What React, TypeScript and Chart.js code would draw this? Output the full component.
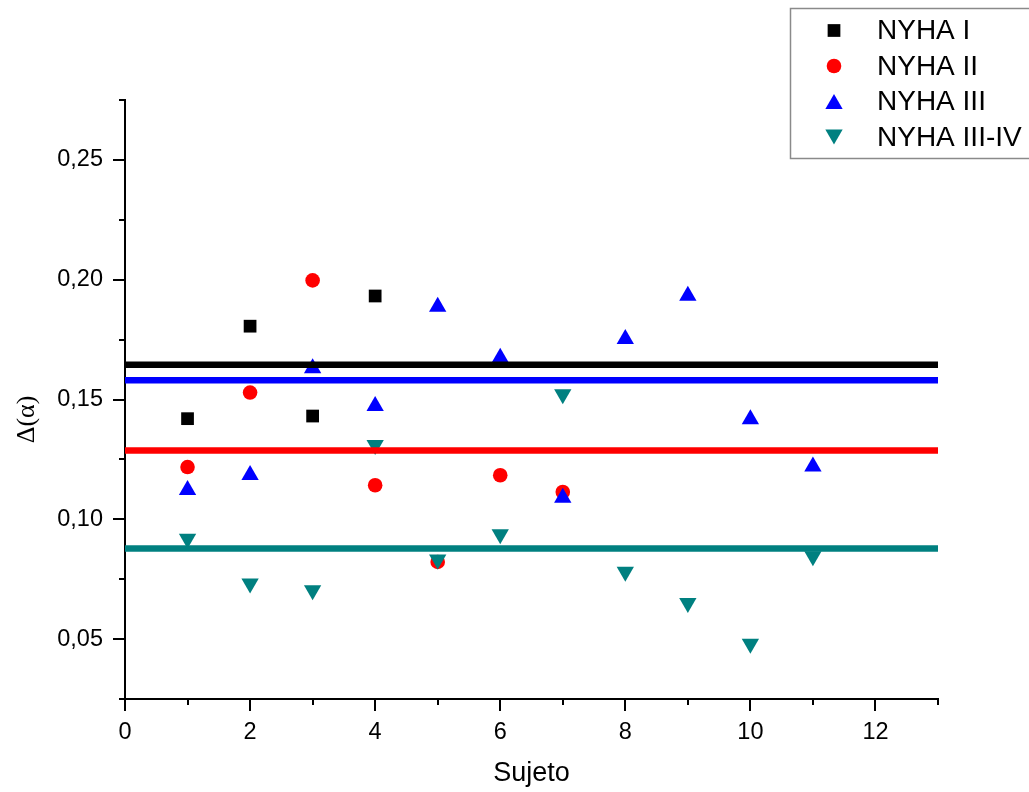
import React, { useEffect, useRef } from 'react';
import { Chart, registerables } from 'chart.js';
import { drawPoint } from 'chart.js/helpers';

Chart.register(...registerables);

// ---- data ----
const subjectsI = [1, 2, 3, 4];
const valuesI = [0.142, 0.1806, 0.1431, 0.1932];

const subjectsII = [1, 2, 3, 4, 5, 6, 7];
const valuesII = [0.1218, 0.1529, 0.1997, 0.1142, 0.0822, 0.1184, 0.1114];

const subjectsIII = [1, 2, 3, 4, 5, 6, 7, 8, 9, 10, 11];
const valuesIII = [0.1122, 0.1185, 0.163, 0.1473, 0.1887, 0.1674, 0.109, 0.1752, 0.1933, 0.1418, 0.122];

const subjectsIIIIV = [1, 2, 3, 4, 5, 6, 7, 8, 9, 10, 11];
const valuesIIIIV = [0.0919, 0.0732, 0.0704, 0.131, 0.0832, 0.0938, 0.1522, 0.0781, 0.0651, 0.0481, 0.0846];

const groupLabels = ['NYHA I', 'NYHA II', 'NYHA III', 'NYHA III-IV'];
const groupMeans = [0.1645, 0.1287, 0.158, 0.0878];

const xMin = 0;
const xMax = 13;
const yMin = 0.025;
const yMax = 0.275;
const xMajorTicks = [0, 2, 4, 6, 8, 10, 12];
const xMinorTicks = [1, 3, 5, 7, 9, 11, 13];
const yMajorTicks = [0.05, 0.1, 0.15, 0.2, 0.25];
const yMinorTicks = [0.025, 0.075, 0.125, 0.175, 0.225, 0.275];

const xTitle = 'Sujeto';
const yTitle = 'Δ(α)';

// ---- styles ----
const colors = ['#000000', '#ff0000', '#0000ff', '#008080'];
const styles: any[] = [
  { pointStyle: 'rect', radius: 9, rotation: 0, legendDy: 0 },
  { pointStyle: 'circle', radius: 7.3, rotation: 0, legendDy: 0 },
  { pointStyle: 'triangle', radius: 10, rotation: 0, legendDy: 2.5 },
  { pointStyle: 'triangle', radius: 10, rotation: 180, legendDy: -2.5 },
];
const sans = "'Liberation Sans', Arial, Helvetica, sans-serif";
const serif = "'Liberation Serif', 'Times New Roman', serif";

const toPts = (xs: number[], ys: number[]) => xs.map((x, i) => ({ x, y: ys[i] }));

const axisDecor = {
  id: 'axisDecor',
  afterDraw(chart: any) {
    const ctx = chart.ctx;
    const xs = chart.scales.x;
    const ys = chart.scales.y;
    const area = chart.chartArea;
    ctx.save();
    ctx.strokeStyle = '#000';
    ctx.lineWidth = 2;
    ctx.beginPath();
    xMajorTicks.forEach((v) => {
      const p = Math.round(xs.getPixelForValue(v));
      ctx.moveTo(p, area.bottom);
      ctx.lineTo(p, area.bottom + 12);
    });
    xMinorTicks.forEach((v) => {
      const p = Math.round(xs.getPixelForValue(v));
      ctx.moveTo(p, area.bottom);
      ctx.lineTo(p, area.bottom + 6);
    });
    yMajorTicks.forEach((v) => {
      const p = Math.round(ys.getPixelForValue(v));
      ctx.moveTo(area.left, p);
      ctx.lineTo(area.left - 12, p);
    });
    yMinorTicks.forEach((v) => {
      const p = Math.round(ys.getPixelForValue(v));
      ctx.moveTo(area.left, p);
      ctx.lineTo(area.left - 6, p);
    });
    ctx.stroke();

    // axis titles
    ctx.fillStyle = '#000';
    ctx.font = `27px ${sans}`;
    ctx.textAlign = 'center';
    ctx.textBaseline = 'middle';
    ctx.fillText(xTitle, (area.left + area.right) / 2, 774);

    ctx.save();
    ctx.translate(27, (area.top + area.bottom) / 2 + 20);
    ctx.rotate(-Math.PI / 2);
    ctx.font = `26px ${serif}`;
    ctx.fillText(yTitle, 0, 0);
    ctx.restore();

    // legend
    const lx = 790.5;
    const ly = 8.5;
    ctx.strokeStyle = '#8a8a8a';
    ctx.lineWidth = 1.5;
    ctx.strokeRect(lx, ly, chart.width - lx + 10, 150);
    const rows = [30.5, 66, 101.5, 137];
    groupLabels.forEach((lab, i) => {
      const st = styles[i];
      ctx.fillStyle = colors[i];
      ctx.strokeStyle = colors[i];
      drawPoint(ctx, { pointStyle: st.pointStyle, rotation: st.rotation, radius: st.radius, borderWidth: 0 } as any, 834, rows[i] + st.legendDy);
      ctx.fillStyle = '#000';
      ctx.font = `28px ${sans}`;
      ctx.textAlign = 'left';
      ctx.textBaseline = 'middle';
      ctx.fillText(lab, 877, rows[i] + 1);
    });
    ctx.restore();
  },
};

export default function App() {
  const ref = useRef<HTMLCanvasElement | null>(null);

  useEffect(() => {
    if (!ref.current) return;
    const series = [
      toPts(subjectsI, valuesI),
      toPts(subjectsII, valuesII),
      toPts(subjectsIII, valuesIII),
      toPts(subjectsIIIIV, valuesIIIIV),
    ];
    const scatterSets = series.map((data, i) => ({
      label: groupLabels[i],
      data,
      showLine: false,
      backgroundColor: colors[i],
      borderColor: colors[i],
      pointStyle: styles[i].pointStyle,
      pointRadius: styles[i].radius,
      pointRotation: styles[i].rotation,
      pointBorderWidth: 0,
      pointHoverRadius: styles[i].radius,
      order: 4 - i,
    }));
    const meanSets = groupMeans.map((m, i) => ({
      label: groupLabels[i] + ' mean',
      data: [
        { x: xMin, y: m },
        { x: xMax, y: m },
      ],
      showLine: true,
      borderColor: colors[i],
      backgroundColor: colors[i],
      borderWidth: 6.5,
      pointRadius: 0,
      order: 0,
    }));

    const chart = new Chart(ref.current, {
      type: 'scatter',
      data: { datasets: [...scatterSets, ...meanSets] as any },
      options: {
        animation: false,
        responsive: true,
        maintainAspectRatio: false,
        layout: { padding: { top: 100, right: 91, left: 0, bottom: 0 } },
        plugins: { legend: { display: false }, tooltip: { enabled: false } },
        scales: {
          x: {
            type: 'linear',
            min: xMin,
            max: xMax,
            afterBuildTicks: (s: any) => {
              s.ticks = xMajorTicks.map((v) => ({ value: v }));
            },
            afterFit: (s: any) => {
              s.height = 93;
            },
            ticks: {
              color: '#000',
              font: { family: sans, size: 23.5 },
              padding: 19,
              maxRotation: 0,
              autoSkip: false,
              callback: (v: any) => String(v),
            },
            grid: { display: true, drawOnChartArea: false, drawTicks: false },
            border: { display: true, color: '#000', width: 2 },
          },
          y: {
            type: 'linear',
            min: yMin,
            max: yMax,
            afterBuildTicks: (s: any) => {
              s.ticks = yMajorTicks.map((v) => ({ value: v }));
            },
            afterFit: (s: any) => {
              s.width = 125;
            },
            ticks: {
              color: '#000',
              font: { family: sans, size: 23.5 },
              padding: 22,
              autoSkip: false,
              callback: (v: any) => Number(v).toFixed(2).replace('.', ','),
            },
            grid: { display: true, drawOnChartArea: false, drawTicks: false },
            border: { display: true, color: '#000', width: 2 },
          },
        },
      },
      plugins: [axisDecor],
    });
    return () => chart.destroy();
  }, []);

  return (
    <div style={{ position: 'fixed', left: 0, top: 0, width: 1029, height: 792, background: '#fff' }}>
      <canvas ref={ref} style={{ display: 'block' }} />
    </div>
  );
}
